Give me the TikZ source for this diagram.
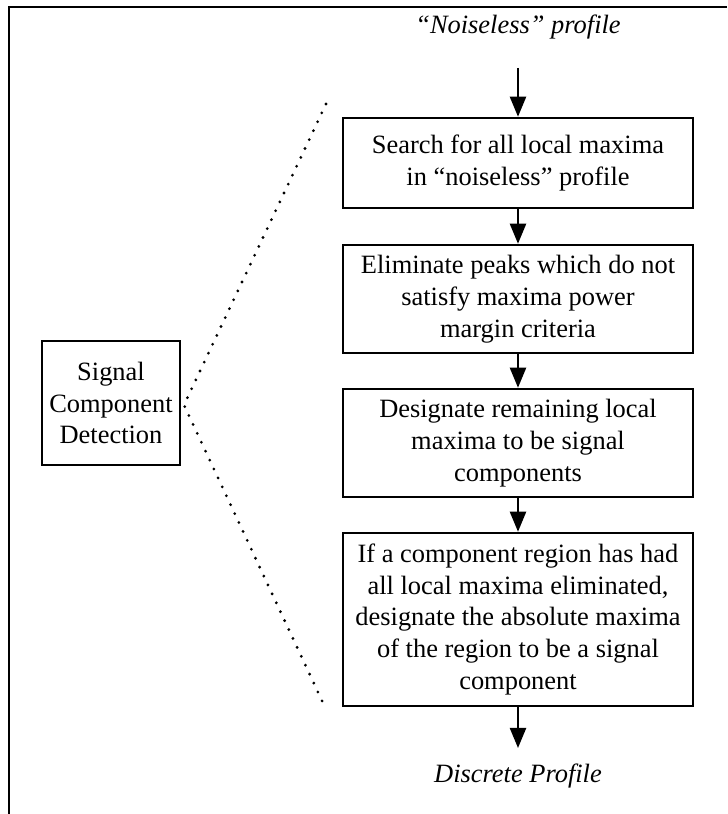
\documentclass[tikz,border=0pt]{standalone}
\usepackage{fontspec}
\setmainfont{Liberation Serif}
\usetikzlibrary{arrows.meta}

\begin{document}
\begin{tikzpicture}[
  every node/.style={font=\fontsize{18.8}{22.7}\selectfont},
  stepbox/.style={draw,line width=1.8pt,minimum width=8.75cm,align=center,inner sep=0pt},
  flow/.style={line width=1.6pt,-{Triangle[width=0.4cm,length=0.5cm]}},
  zoomline/.style={line width=2.2pt,line cap=round,dash pattern=on 0pt off 7pt}
]
\useasboundingbox (0,0) rectangle (18.175,20.35);
\draw[line width=1.8pt] (0.225,0) -- (0.225,20.175) -- (18.175,20.175);

% overview block
\node[draw,line width=1.8pt,minimum width=3.45cm,minimum height=3.1cm,align=center,inner sep=0pt] (scd) at (2.775,10.275) {Signal\\Component\\Detection};

% detail steps
\node[font=\fontsize{18.8}{22.7}\selectfont\itshape] (noiseless) at (12.95,19.675) {``Noiseless'' profile};
\coordinate (in) at (12.95,18.65);
\node[stepbox,minimum height=2.25cm] (search) at (12.95,16.275) {Search for all local maxima\\in ``noiseless'' profile};
\node[stepbox,minimum height=2.7cm] (elim) at (12.95,12.875) {Eliminate peaks which do not\\satisfy maxima power\\margin criteria};
\node[stepbox,minimum height=2.7cm] (desig) at (12.95,9.275) {Designate remaining local\\maxima to be signal\\components};
\node[stepbox,minimum height=4.325cm] (absmax) at (12.95,4.8625) {If a component region has had\\all local maxima eliminated,\\designate the absolute maxima\\of the region to be a signal\\component};
\coordinate (out) at (12.95,1.65);
\node[font=\fontsize{18.8}{22.7}\selectfont\itshape] (discrete) at (12.95,0.95) {Discrete Profile};

\draw[flow] (in) -- (search);
\draw[flow] (search) -- (elim);
\draw[flow] (elim) -- (desig);
\draw[flow] (desig) -- (absmax);
\draw[flow] (absmax) -- (out);

% dotted fan from the block to the steps
\coordinate (apex) at (4.6,10.225);
\coordinate (fantop) at (8.15,17.75);
\coordinate (fanbot) at (8.1,2.725);
\draw[zoomline] (fantop) -- (apex) -- (fanbot);

\end{tikzpicture}
\end{document}
